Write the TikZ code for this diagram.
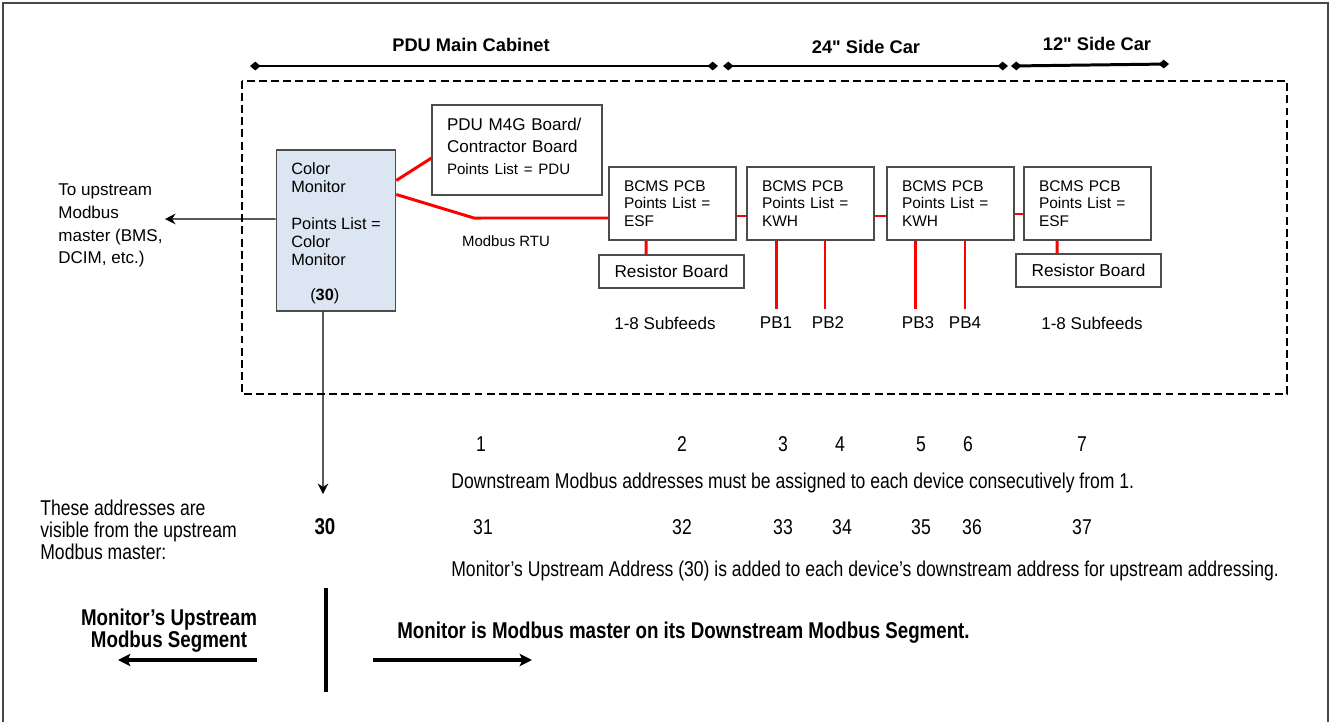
\documentclass[tikz,border=0pt]{standalone}
\usepackage{fontspec}
\setmainfont{Liberation Sans}
\newfontfamily\narrowfont{Liberation Sans}[FakeStretch=0.82]
\usetikzlibrary{arrows.meta}
\definecolor{monblue}{RGB}{220,230,242}
\definecolor{busred}{RGB}{255,0,0}
\definecolor{framegray}{RGB}{70,70,70}

\tikzset{
  board/.style={draw=black!70, line width=0.6pt, fill=white, inner xsep=0.3cm, inner ysep=0pt, align=left},
  bus/.style={draw=busred, line width=1.7pt},
  txt/.style={inner sep=0pt, font=\fontsize{9.7}{13}\selectfont},
  lowtxt/.style={inner sep=0pt, font=\narrowfont\fontsize{12.2}{12.5}\selectfont},
  lowbold/.style={inner sep=0pt, font=\narrowfont\bfseries\fontsize{13}{12.5}\selectfont},
  span/.style={line width=1.7pt, {Diamond[length=6pt,width=5pt]}-{Diamond[length=6pt,width=5pt]}},
  thinarrow/.style={line width=0.8pt, -{Stealth[length=6pt,width=6pt,inset=2pt]}},
  fatarrow/.style={line width=1.9pt, -{Stealth[length=7pt,width=7pt,inset=1.5pt]}},
}

\begin{document}
\begin{tikzpicture}[x=0.02cm, y=-0.02cm]

\useasboundingbox (0,0) rectangle (1330,721);
\draw [framegray, line width=1.2pt] (3,3) rectangle (1328,724);

\node [txt, font=\bfseries\fontsize{10.4}{12}\selectfont] (pdulbl) at (471,45) {PDU Main Cabinet};
\node [txt, font=\bfseries\fontsize{10.4}{12}\selectfont] (car24lbl) at (866,47) {24\textquotedbl{} Side Car};
\node [txt, font=\bfseries\fontsize{10.4}{12}\selectfont] (car12lbl) at (1097,44) {12\textquotedbl{} Side Car};
\coordinate (pduL) at (250,66);
\coordinate (pduR) at (718,66);
\coordinate (car24L) at (723,66);
\coordinate (car24R) at (1008,66);
\coordinate (car12L) at (1011,66);
\coordinate (car12R) at (1169,64);
\draw [span] (pduL) -- (pduR);
\draw [span] (car24L) -- (car24R);
\draw [span] (car12L) -- (car12R);

\draw [line width=1.1pt, dash pattern=on 4.5pt off 2.4pt] (242,81) rectangle (1287,394);

\node [board, fill=monblue, minimum width=2.32cm, minimum height=3.22cm, font=\fontsize{9.3}{10.3}\selectfont] (mon) at (336,230.5)
  {\rule{0pt}{10pt}Color\\Monitor\\[10.7pt]Points List =\\Color\\Monitor\\[9.5pt]\hspace*{0.38cm}(\textbf{30})};
\node [board, minimum width=3.4cm, minimum height=1.8cm, text width=2.8cm, font=\fontsize{9.7}{12.4}\selectfont] (m4g) at (517,150)
  {PDU M4G Board/\\Contractor Board\\{\fontsize{8.6}{12}\selectfont Points List = PDU}\\[-8pt]\mbox{}};

\node [board, minimum width=2.54cm, minimum height=1.46cm, text width=1.94cm, font=\fontsize{8.8}{9.9}\selectfont] (bcms1) at (672.5,203.5) {BCMS PCB\\Points List =\\ESF};
\node [board, minimum width=2.54cm, minimum height=1.46cm, text width=1.94cm, font=\fontsize{8.8}{9.9}\selectfont] (bcms2) at (810.5,203.5) {BCMS PCB\\Points List =\\KWH};
\node [board, minimum width=2.54cm, minimum height=1.46cm, text width=1.94cm, font=\fontsize{8.8}{9.9}\selectfont] (bcms3) at (950.5,203.5) {BCMS PCB\\Points List =\\KWH};
\node [board, minimum width=2.54cm, minimum height=1.46cm, text width=1.94cm, font=\fontsize{8.8}{9.9}\selectfont] (bcms4) at (1087.5,203.5) {BCMS PCB\\Points List =\\ESF};

\node [board, minimum width=2.9cm, minimum height=0.66cm, font=\fontsize{9.8}{11}\selectfont] (res1) at (671.5,271.5) {Resistor Board};
\node [board, minimum width=2.9cm, minimum height=0.66cm, font=\fontsize{9.8}{11}\selectfont] (res2) at (1088.5,270.5) {Resistor Board};

\coordinate (rtubend) at (474,218);
\draw [bus] ([yshift=-0.62cm]mon.north east) -- ([yshift=-0.16cm]m4g.west);
\draw [bus] ([yshift=-0.9cm]mon.north east) -- (rtubend) -- ([yshift=-0.29cm]bcms1.west);
\node [txt, font=\fontsize{8.5}{10}\selectfont] (rtu) at (506,241) {Modbus RTU};
\draw [bus] ([yshift=-0.25cm]bcms1.east) -- ([yshift=-0.25cm]bcms2.west);
\draw [bus] ([yshift=-0.25cm]bcms2.east) -- ([yshift=-0.25cm]bcms3.west);
\draw [bus] ([yshift=-0.21cm]bcms3.east) -- ([yshift=-0.21cm]bcms4.west);
\draw [bus] ([xshift=-0.53cm]bcms1.south) -- ([xshift=-0.51cm]res1.north);
\draw [bus] ([xshift=-0.61cm]bcms4.south) -- ([xshift=-0.63cm]res2.north);

\node [txt] (sub1) at (665,323) {1-8 Subfeeds};
\node [txt] (sub2) at (1092,323) {1-8 Subfeeds};
\node [txt] (pb1) at (776,323) {PB1};
\node [txt] (pb2) at (828,323) {PB2};
\node [txt] (pb3) at (918,323) {PB3};
\node [txt] (pb4) at (965,323) {PB4};
\draw [bus] ([xshift=-0.69cm]bcms2.south) -- ([xshift=-0.69cm, yshift=-1.36cm]bcms2.south);
\draw [bus] ([xshift=0.29cm]bcms2.south) -- ([xshift=0.29cm, yshift=-1.36cm]bcms2.south);
\draw [bus] ([xshift=-0.71cm]bcms3.south) -- ([xshift=-0.71cm, yshift=-1.36cm]bcms3.south);
\draw [bus] ([xshift=0.29cm]bcms3.south) -- ([xshift=0.29cm, yshift=-1.36cm]bcms3.south);

\node [txt, anchor=west, align=left] (upmaster) at (58,225.5) {To upstream\\Modbus\\master (BMS,\\DCIM, etc.)};
\coordinate (uptip) at (165,219);
\draw [thinarrow] ([yshift=0.23cm]mon.west) -- (uptip);
\coordinate (downtip) at (323,494);
\draw [thinarrow] ([xshift=-0.26cm]mon.south) -- (downtip);

\node [lowtxt] (d1) at (481,444) {1};
\node [lowtxt] (d2) at (682,444) {2};
\node [lowtxt] (d3) at (783,444) {3};
\node [lowtxt] (d4) at (840,444) {4};
\node [lowtxt] (d5) at (921,444) {5};
\node [lowtxt] (d6) at (968,444) {6};
\node [lowtxt] (d7) at (1082,444) {7};
\node [lowtxt, anchor=west] (downnote) at (451,483) {Downstream Modbus addresses must be assigned to each device consecutively from 1.};

\node [lowtxt, anchor=west, align=left] (visible) at (40,530) {These addresses are\\visible from the upstream\\Modbus master:};
\node [lowbold] (u30) at (325,527) {30};
\node [lowtxt] (u31) at (483,527) {31};
\node [lowtxt] (u32) at (682,527) {32};
\node [lowtxt] (u33) at (783,527) {33};
\node [lowtxt] (u34) at (842,527) {34};
\node [lowtxt] (u35) at (921,527) {35};
\node [lowtxt] (u36) at (972,527) {36};
\node [lowtxt] (u37) at (1082,527) {37};
\node [lowtxt, anchor=west] (upnote) at (451,571) {Monitor’s Upstream Address (30) is added to each device’s downstream address for upstream addressing.};

\coordinate (splitT) at (326,588);
\coordinate (splitB) at (326,692);
\draw [line width=1.9pt] (splitT) -- (splitB);
\node [lowbold, align=center] (upseg) at (169,631) {Monitor’s Upstream\\Modbus Segment};
\node [lowbold, anchor=west] (downseg) at (397,633) {Monitor is Modbus master on its Downstream Modbus Segment.};
\coordinate (upsegA) at (257,660);
\coordinate (upsegB) at (118,660);
\coordinate (downsegA) at (373,660);
\coordinate (downsegB) at (532,660);
\draw [fatarrow] (upsegA) -- (upsegB);
\draw [fatarrow] (downsegA) -- (downsegB);

\end{tikzpicture}
\end{document}
